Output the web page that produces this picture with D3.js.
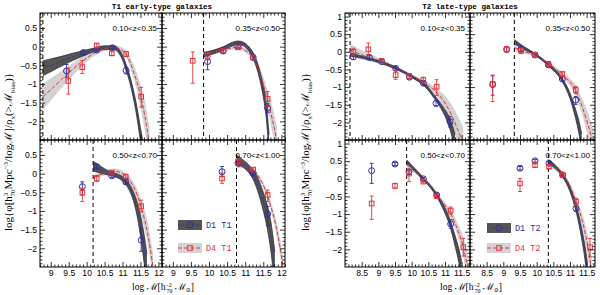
<!DOCTYPE html>
<html><head><meta charset="utf-8">
<script src="https://cdn.jsdelivr.net/npm/d3@7"></script>
<style>body{margin:0;background:#fff}svg{display:block}</style>
</head><body>
<svg id="c" width="600" height="295"></svg>
<script>
// ---------------- DATA ----------------
const zLabels = ["0.10<z<0.35","0.35<z<0.50","0.50<z<0.70","0.70<z<1.00"];
const T1_xticks = [9, 9.5, 10, 10.5, 11, 11.5, 12];
const T2_xticks = [8.5, 9, 9.5, 10, 10.5, 11, 11.5];
const T1_yticks = [-2, -1.5, -1, -0.5, 0, 0.5];
const T2_yticks = [-2, -1.5, -1, -0.5, 0, 0.5, 1];
const T1_cuts = [8.78, 9.85, 10.18, 10.76];
const T2_cuts = [8.15, 9.33, 9.85, 10.35];

// points: [logM, logPhi, errDown, errUp]
const T1_D1_points = [
  [[9.44,-0.65,0.17,0.17],[9.91,-0.16,0.06,0.06],[10.28,-0.09,0.05,0.05],[10.72,-0.03,0.04,0.04],[11.1,-0.64,0.09,0.09]],
  [[9.96,-0.4,0.22,0.15],[10.39,-0.12,0.05,0.05],[10.8,0.0,0.04,0.04],[11.22,-0.29,0.05,0.05],[11.62,-1.65,0.12,0.12]],
  [[9.88,-0.35,0.22,0.13],[10.28,0.19,0.05,0.05],[10.7,-0.06,0.04,0.04],[11.09,-0.22,0.06,0.06],[11.52,-1.78,0.3,0.3]],
  [[10.36,0.05,0.13,0.14],[10.8,0.28,0.04,0.04],[11.22,0.01,0.04,0.04],[11.62,-1.08,0.3,0.2]]
];
const T1_D4_points = [
  [[9.49,-0.92,0.35,0.35],[9.88,-0.55,0.17,0.18],[10.28,0.03,0.05,0.05],[10.7,-0.18,0.06,0.06],[11.1,-0.2,0.07,0.07],[11.52,-1.34,0.28,0.25]],
  [[9.55,-0.38,0.6,0.24],[9.96,-0.25,0.1,0.1],[10.39,-0.12,0.05,0.05],[10.8,-0.02,0.05,0.05],[11.22,-0.29,0.05,0.05],[11.62,-1.4,0.2,0.2]],
  [[9.88,-0.51,0.24,0.12],[10.28,-0.13,0.08,0.08],[10.7,0.03,0.04,0.04],[11.09,-0.08,0.05,0.05],[11.52,-0.87,0.15,0.16]],
  [[10.36,-0.13,0.13,0.14],[10.8,0.32,0.04,0.04],[11.22,0.11,0.04,0.04],[11.62,-0.57,0.18,0.13]]
];
const T2_D1_points = [
  [[8.25,-0.14,0.08,0.08],[8.73,-0.16,0.05,0.05],[9.1,-0.28,0.05,0.05],[9.52,-0.47,0.05,0.05],[9.93,-0.72,0.05,0.05],[10.35,-0.89,0.05,0.05],[10.73,-1.46,0.08,0.08],[11.15,-1.98,0.15,0.15]],
  [[8.68,-0.93,0.3,0.25],[9.1,0.07,0.07,0.07],[9.53,0.07,0.05,0.05],[9.95,-0.09,0.04,0.04],[10.35,-0.37,0.05,0.05],[10.77,-0.77,0.06,0.06],[11.17,-1.37,0.12,0.1]],
  [[8.8,0.23,0.36,0.21],[9.5,0.42,0.04,0.04],[9.92,0.2,0.06,0.06],[10.35,0.0,0.04,0.04],[10.75,-0.46,0.05,0.05],[11.17,-1.28,0.12,0.12]],
  [[9.5,0.3,0.05,0.05],[9.95,0.51,0.04,0.04],[10.37,0.44,0.04,0.04],[10.78,0.11,0.04,0.04],[11.18,-0.84,0.08,0.08]]
];
const T2_D4_points = [
  [[8.25,0.0,0.1,0.1],[8.7,0.07,0.15,0.18],[9.1,-0.26,0.07,0.07],[9.52,-0.66,0.12,0.12],[9.93,-0.69,0.07,0.07],[10.35,-0.8,0.08,0.08],[10.75,-0.99,0.25,0.2]],
  [[8.68,-0.91,0.5,0.25],[9.1,0.07,0.08,0.08],[9.53,0.03,0.08,0.08],[9.95,-0.09,0.04,0.04],[10.35,-0.34,0.05,0.05],[10.77,-0.63,0.06,0.06],[11.17,-1.08,0.1,0.1]],
  [[8.8,-0.7,0.45,0.21],[9.5,-0.2,0.07,0.07],[9.92,0.15,0.23,0.1],[10.35,-0.08,0.04,0.04],[10.75,-0.49,0.05,0.05],[11.17,-0.9,0.1,0.1],[11.55,-1.94,0.25,0.25]],
  [[9.5,-0.13,0.23,0.14],[9.95,0.39,0.07,0.07],[10.37,0.34,0.05,0.05],[10.78,0.11,0.04,0.04],[11.18,-0.65,0.1,0.1],[11.6,-1.94,0.27,0.25]]
];

// fitted mass functions: x, centre, half-width of band
const T1_D1_fitX = [
  [8.78,9.0,9.3,9.6,9.9,10.2,10.5,10.75,10.95,11.1,11.25,11.4,11.5,11.58],
  [9.85,10.1,10.4,10.6,10.8,10.95,11.1,11.25,11.4,11.5,11.58,11.66],
  [10.18,10.4,10.6,10.8,11.0,11.15,11.3,11.42,11.52,11.6,11.68],
  [10.76,10.9,11.05,11.2,11.35,11.5,11.62,11.72,11.82]
];
const T1_D1_fitY = [
  [-0.58,-0.5,-0.39,-0.28,-0.18,-0.09,-0.03,-0.03,-0.2,-0.55,-1.05,-1.75,-2.35,-2.8],
  [-0.22,-0.15,-0.05,0.05,0.1,0.07,-0.06,-0.3,-0.75,-1.2,-1.7,-2.6],
  [0.2,0.1,0.02,-0.04,-0.14,-0.3,-0.6,-1.0,-1.5,-2.0,-2.6],
  [0.38,0.3,0.18,0.0,-0.3,-0.75,-1.2,-1.75,-2.6]
];
const T1_D1_fitErr = [
  [0.2,0.17,0.13,0.1,0.07,0.05,0.05,0.05,0.06,0.08,0.1,0.14,0.18,0.2],
  [0.06,0.05,0.05,0.05,0.05,0.05,0.06,0.08,0.12,0.15,0.2,0.25],
  [0.13,0.09,0.06,0.05,0.06,0.08,0.12,0.2,0.3,0.38,0.45],
  [0.12,0.1,0.1,0.12,0.18,0.25,0.32,0.4,0.5]
];
const T1_D4_fitX = [
  [8.78,9.0,9.3,9.6,9.9,10.2,10.5,10.75,10.95,11.1,11.3,11.5,11.62,11.75],
  [9.85,10.1,10.4,10.8,11.0,11.2,11.4,11.6,11.75,11.88],
  [10.18,10.4,10.6,10.8,11.0,11.2,11.4,11.55,11.7,11.85],
  [10.76,10.95,11.15,11.35,11.55,11.7,11.85,11.95,12.05]
];
const T1_D4_fitY = [
  [-1.34,-1.15,-0.88,-0.62,-0.38,-0.18,-0.06,-0.02,-0.08,-0.2,-0.65,-1.3,-1.85,-2.6],
  [-0.2,-0.15,-0.08,-0.02,-0.1,-0.28,-0.7,-1.35,-1.95,-2.55],
  [-0.1,-0.02,0.04,0.06,0.0,-0.18,-0.55,-1.0,-1.6,-2.5],
  [0.2,0.18,0.13,-0.05,-0.42,-0.85,-1.4,-1.9,-2.5]
];
const T1_D4_fitErr = [
  [0.35,0.3,0.23,0.17,0.12,0.08,0.06,0.06,0.07,0.1,0.18,0.3,0.4,0.45],
  [0.07,0.06,0.05,0.05,0.06,0.08,0.15,0.25,0.35,0.4],
  [0.06,0.06,0.07,0.08,0.08,0.1,0.15,0.22,0.3,0.35],
  [0.05,0.04,0.04,0.05,0.08,0.12,0.18,0.22,0.25]
];
const T2_D1_fitX = [
  [8.15,8.6,9.0,9.5,10.0,10.4,10.7,10.95,11.15,11.3],
  [9.33,9.6,9.95,10.35,10.77,11.0,11.15,11.27,11.35],
  [9.85,10.1,10.35,10.55,10.75,10.95,11.15,11.3,11.42,11.5],
  [10.35,10.55,10.78,11.0,11.2,11.35,11.45,11.52]
];
const T2_D1_fitY = [
  [-0.08,-0.17,-0.27,-0.45,-0.7,-0.95,-1.3,-1.65,-2.05,-2.55],
  [0.29,0.12,-0.07,-0.37,-0.8,-1.25,-1.7,-2.15,-2.55],
  [0.49,0.25,0.0,-0.2,-0.46,-0.8,-1.25,-1.75,-2.2,-2.6],
  [0.5,0.35,0.1,-0.3,-0.9,-1.55,-2.1,-2.6]
];
const T2_D1_fitErr = [
  [0.04,0.03,0.03,0.03,0.03,0.04,0.05,0.08,0.15,0.22],
  [0.06,0.04,0.03,0.03,0.05,0.08,0.12,0.18,0.22],
  [0.05,0.04,0.04,0.04,0.05,0.07,0.1,0.15,0.2,0.25],
  [0.05,0.05,0.05,0.07,0.1,0.15,0.2,0.25]
];
const T2_D4_fitX = [
  [8.15,8.6,9.0,9.5,10.0,10.4,10.75,11.0,11.2,11.4,11.55],
  [9.33,9.6,9.95,10.35,10.77,11.17,11.4,11.55,11.7],
  [9.85,10.1,10.35,10.75,11.0,11.2,11.4,11.55,11.68],
  [10.35,10.55,10.78,11.0,11.18,11.4,11.55,11.65]
];
const T2_D4_fitY = [
  [0.05,-0.12,-0.25,-0.45,-0.68,-0.9,-1.15,-1.45,-1.8,-2.25,-2.6],
  [0.12,0.02,-0.1,-0.33,-0.65,-1.1,-1.65,-2.1,-2.6],
  [0.4,0.2,0.0,-0.45,-0.75,-1.05,-1.5,-1.94,-2.5],
  [0.42,0.3,0.1,-0.2,-0.65,-1.3,-2.0,-2.6]
];
const T2_D4_fitErr = [
  [0.18,0.12,0.08,0.05,0.05,0.07,0.12,0.2,0.3,0.4,0.45],
  [0.1,0.07,0.05,0.05,0.07,0.15,0.25,0.35,0.4],
  [0.08,0.05,0.04,0.05,0.08,0.12,0.2,0.3,0.35],
  [0.05,0.05,0.05,0.08,0.12,0.2,0.3,0.35]
];

// ---------------- LAYOUT ----------------
const BLUE = "#2e2e9c", RED = "#e2333a", DARK = "#555555", LIGHT = "#d2d2d2";
const rows = [[13,140],[140,267]];
const figs = [
  {title:"T1 early-type galaxies", titleX:162, xd:[8.7,12.1], yd:[-2.5,0.9],
   cols:[[40,162],[162,285]], xt:T1_xticks, yt:T1_yticks, cuts:T1_cuts,
   d1:T1_D1_points, d4:T1_D4_points,
   f1:[T1_D1_fitX,T1_D1_fitY,T1_D1_fitErr], f4:[T1_D4_fitX,T1_D4_fitY,T1_D4_fitErr],
   leg:["D1 T1","D4 T1"], legX:178, legY:[220,243], ylabX:8, xlabX:163},
  {title:"T2 late-type galaxies", titleX:470, xd:[8.0,11.75], yd:[-2.5,1.1],
   cols:[[345,470],[470,595]], xt:T2_xticks, yt:T2_yticks, cuts:T2_cuts,
   d1:T2_D1_points, d4:T2_D4_points,
   f1:[T2_D1_fitX,T2_D1_fitY,T2_D1_fitErr], f4:[T2_D4_fitX,T2_D4_fitY,T2_D4_fitErr],
   leg:["D1 T2","D4 T2"], legX:487, legY:[223,243], ylabX:305, xlabX:471}
];

const svg = d3.select("#c");
const defs = svg.append("defs");
const tickFont = "'Liberation Sans', Arial, sans-serif";

function minorVals(d){ const out=[]; for(let v=Math.ceil(d[0]*10-1e-6); v<=Math.floor(d[1]*10+1e-6); v++){ if(v%5!==0) out.push(v/10);} return out; }

figs.forEach((F, fi) => {
  svg.append("text").attr("x",F.titleX).attr("y",9).attr("text-anchor","middle")
    .attr("font-family","'Liberation Mono','DejaVu Sans Mono',monospace").attr("font-weight","bold")
    .attr("font-size",7.6).text(F.title);

  for (let p=0; p<4; p++){
    const r = Math.floor(p/2), c = p%2;
    const [x0,x1] = F.cols[c], [y0,y1] = rows[r];
    const x = d3.scaleLinear().domain(F.xd).range([x0,x1]);
    const y = d3.scaleLinear().domain(F.yd).range([y1,y0]);
    const cid = `clip${fi}_${p}`;
    defs.append("clipPath").attr("id",cid).append("rect")
      .attr("x",x0).attr("y",y0).attr("width",x1-x0).attr("height",y1-y0);
    const g = svg.append("g").attr("clip-path",`url(#${cid})`);

    const mk = (f)=> f[0][p].map((xv,i)=>({x:xv, c:f[1][p][i], h:f[2][p][i]}));
    const s1 = mk(F.f1), s4 = mk(F.f4);
    const area = d3.area().x(d=>x(d.x)).y0(d=>y(d.c-d.h)).y1(d=>y(d.c+d.h)).curve(d3.curveMonotoneX);
    const line = d3.line().x(d=>x(d.x)).y(d=>y(d.c)).curve(d3.curveMonotoneX);
    const edgeLo = d3.line().x(d=>x(d.x)).y(d=>y(d.c-d.h)).curve(d3.curveMonotoneX);
    const edgeHi = d3.line().x(d=>x(d.x)).y(d=>y(d.c+d.h)).curve(d3.curveMonotoneX);

    g.append("path").datum(s4).attr("d",area).attr("fill",LIGHT);
    g.append("path").datum(s1).attr("d",area).attr("fill",DARK);
    [edgeLo,edgeHi].forEach(e=>g.append("path").datum(s1).attr("d",e).attr("fill","none").attr("stroke","#222").attr("stroke-width",0.7));
    g.append("path").datum(s4).attr("d",line).attr("fill","none").attr("stroke",RED).attr("stroke-width",1).attr("stroke-dasharray","4,2");
    g.append("path").datum(s1).attr("d",line).attr("fill","none").attr("stroke",BLUE).attr("stroke-width",1.1).attr("stroke-dasharray","1,1.4");

    g.append("line").attr("x1",x(F.cuts[p])).attr("x2",x(F.cuts[p])).attr("y1",y0).attr("y2",y1)
      .attr("stroke","#000").attr("stroke-width",1).attr("stroke-dasharray","4,3");

    const drawPts = (pts, col, shape) => {
      pts.forEach(d => {
        const px = x(d[0]), py = y(d[1]), ylo = y(d[1]-d[2]), yhi = y(d[1]+d[3]);
        g.append("line").attr("x1",px).attr("x2",px).attr("y1",ylo).attr("y2",yhi).attr("stroke",col).attr("stroke-width",0.9);
        [ylo,yhi].forEach(v=>g.append("line").attr("x1",px-2).attr("x2",px+2).attr("y1",v).attr("y2",v).attr("stroke",col).attr("stroke-width",0.9));
        if (shape==="c") g.append("circle").attr("cx",px).attr("cy",py).attr("r",3).attr("fill","none").attr("stroke",col).attr("stroke-width",1);
        else g.append("rect").attr("x",px-2.3).attr("y",py-2.3).attr("width",4.6).attr("height",4.6).attr("fill","none").attr("stroke",col).attr("stroke-width",1);
      });
    };
    drawPts(F.d1[p], BLUE, "c");
    drawPts(F.d4[p], RED, "s");

    svg.append("rect").attr("x",x0).attr("y",y0).attr("width",x1-x0).attr("height",y1-y0)
      .attr("fill","none").attr("stroke","#000").attr("stroke-width",1);

    const ax = (gen, tr, vals, size, labels) => {
      const a = svg.append("g").attr("transform",tr)
        .call(gen.tickValues(vals).tickSize(size).tickPadding(3).tickFormat(labels ? d3.format("~g") : ""));
      a.select(".domain").remove();
      a.selectAll("line").attr("stroke","#000").attr("stroke-width",0.8);
      a.selectAll("text").attr("font-family",tickFont).attr("font-size",8.6).attr("fill","#000");
      return a;
    };
    const mnX = minorVals(F.xd), mnY = minorVals(F.yd);
    ax(d3.axisBottom(x), `translate(0,${y1})`, F.xt, -5, r===1);
    ax(d3.axisBottom(x), `translate(0,${y1})`, mnX, -2.5, false);
    ax(d3.axisTop(x), `translate(0,${y0})`, F.xt, -5, false);
    ax(d3.axisTop(x), `translate(0,${y0})`, mnX, -2.5, false);
    ax(d3.axisLeft(y), `translate(${x0},0)`, F.yt, -5, c===0);
    ax(d3.axisLeft(y), `translate(${x0},0)`, mnY, -2.5, false);
    ax(d3.axisRight(y), `translate(${x1},0)`, F.yt, -5, false);
    ax(d3.axisRight(y), `translate(${x1},0)`, mnY, -2.5, false);

    svg.append("text").attr("x",x1-5).attr("y",y0+18).attr("text-anchor","end")
      .attr("font-family",tickFont).attr("font-size",8).text(zLabels[p]);
  }

  const lx = F.legX, lw = 24, lh = 10;
  svg.append("rect").attr("x",lx).attr("y",F.legY[0]).attr("width",lw).attr("height",lh).attr("fill",DARK);
  svg.append("line").attr("x1",lx).attr("x2",lx+lw).attr("y1",F.legY[0]+lh/2).attr("y2",F.legY[0]+lh/2)
    .attr("stroke",BLUE).attr("stroke-width",1.1).attr("stroke-dasharray","1,1.4");
  svg.append("circle").attr("cx",lx+lw/2).attr("cy",F.legY[0]+lh/2).attr("r",3).attr("fill","none").attr("stroke",BLUE);
  svg.append("rect").attr("x",lx).attr("y",F.legY[1]).attr("width",lw).attr("height",lh).attr("fill",LIGHT);
  svg.append("line").attr("x1",lx).attr("x2",lx+lw).attr("y1",F.legY[1]+lh/2).attr("y2",F.legY[1]+lh/2)
    .attr("stroke",RED).attr("stroke-width",1).attr("stroke-dasharray","4,2");
  svg.append("rect").attr("x",lx+lw/2-2.3).attr("y",F.legY[1]+lh/2-2.3).attr("width",4.6).attr("height",4.6).attr("fill","none").attr("stroke",RED);
  [[F.leg[0],BLUE,F.legY[0]],[F.leg[1],RED,F.legY[1]]].forEach(([t,col,yy])=>{
    svg.append("text").attr("x",lx+lw+4).attr("y",yy+lh/2+3).attr("fill",col)
      .attr("font-family","'Liberation Mono','DejaVu Sans Mono',monospace").attr("font-size",8.5).text(t);
  });

  const serif = "'Liberation Serif','DejaVu Serif',serif";
  const yl = svg.append("text").attr("transform",`translate(${F.ylabX+4},152) rotate(-90)`)
    .attr("text-anchor","middle").attr("font-family",serif).attr("font-size",11);
  yl.append("tspan").text("log{φ[h");
  yl.append("tspan").attr("dy",-4).attr("font-size",7).text("3");
  yl.append("tspan").attr("dy",7).attr("dx",-3.8).attr("font-size",7).text("70");
  yl.append("tspan").attr("dy",-3).text("Mpc");
  yl.append("tspan").attr("dy",-4).attr("font-size",7).text("−3");
  yl.append("tspan").attr("dy",4).text("/logℳ]/ρ");
  yl.append("tspan").attr("dy",2.5).attr("font-size",7).text("x");
  yl.append("tspan").attr("dy",-2.5).text("(>ℳ");
  yl.append("tspan").attr("dy",2.5).attr("font-size",7).text("bias");
  yl.append("tspan").attr("dy",-2.5).text(")}");

  const xl = svg.append("text").attr("x",F.xlabX).attr("y",290).attr("text-anchor","middle")
    .attr("font-family",serif).attr("font-size",9.5);
  xl.append("tspan").text("log ℳ[h");
  xl.append("tspan").attr("dy",-3.5).attr("font-size",6).text("−2");
  xl.append("tspan").attr("dy",6).attr("dx",-5.5).attr("font-size",6).text("70");
  xl.append("tspan").attr("dy",-2.5).text(" ℳ");
  xl.append("tspan").attr("dy",2).attr("font-size",6).text("⊙");
  xl.append("tspan").attr("dy",-2).text("]");
});
</script>
</body></html>
